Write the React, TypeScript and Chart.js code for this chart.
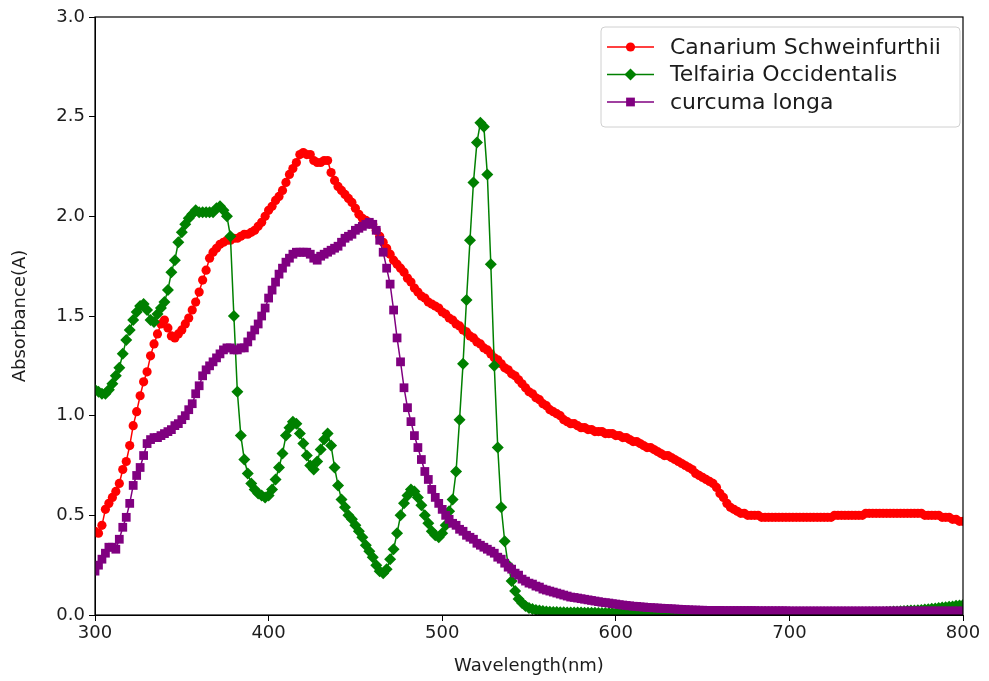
import React, { useEffect, useRef } from 'react';
import { Chart, registerables } from 'chart.js';

Chart.register(...registerables);

// ---- data ----
const WAVELENGTH_START = 300; // nm, first sample
const WAVELENGTH_STEP = 2; // nm between samples
const X_TICKS = [300, 400, 500, 600, 700, 800];
const Y_TICKS = [0, 0.5, 1.0, 1.5, 2.0, 2.5, 3.0];
const SERIES_NAMES = ['Canarium Schweinfurthii', 'Telfairia Occidentalis', 'curcuma longa'];
const X_TITLE = 'Wavelength(nm)';
const Y_TITLE = 'Absorbance(A)';

// Canarium Schweinfurthii, 300..800 nm every 2 nm
const CANARIUM = [
  0.42, 0.41, 0.45, 0.53, 0.56, 0.59, 0.62, 0.66, 0.73, 0.77,
  0.85, 0.95, 1.02, 1.10, 1.17, 1.22, 1.30, 1.36, 1.41, 1.46,
  1.48, 1.44, 1.40, 1.39, 1.41, 1.43, 1.46, 1.49, 1.53, 1.57,
  1.62, 1.68, 1.73, 1.79, 1.82, 1.84, 1.86, 1.87, 1.88, 1.88,
  1.89, 1.89, 1.90, 1.91, 1.91, 1.92, 1.93, 1.95, 1.97, 2.00,
  2.03, 2.05, 2.08, 2.10, 2.13, 2.17, 2.21, 2.24, 2.27, 2.31,
  2.32, 2.31, 2.31, 2.28, 2.27, 2.27, 2.28, 2.28, 2.22, 2.18,
  2.15, 2.13, 2.11, 2.09, 2.07, 2.04, 2.01, 1.99, 1.98, 1.97,
  1.96, 1.93, 1.90, 1.87, 1.84, 1.81, 1.78, 1.76, 1.74, 1.72,
  1.69, 1.67, 1.64, 1.62, 1.60, 1.59, 1.57, 1.56, 1.55, 1.54,
  1.52, 1.51, 1.49, 1.48, 1.46, 1.45, 1.43, 1.42, 1.40, 1.39,
  1.37, 1.36, 1.34, 1.33, 1.31, 1.29, 1.28, 1.26, 1.24, 1.23,
  1.21, 1.20, 1.18, 1.16, 1.14, 1.12, 1.11, 1.09, 1.08, 1.06,
  1.05, 1.03, 1.02, 1.01, 1.00, 0.98, 0.97, 0.96, 0.96, 0.95,
  0.94, 0.94, 0.93, 0.93, 0.92, 0.92, 0.92, 0.91, 0.91, 0.91,
  0.90, 0.90, 0.89, 0.89, 0.88, 0.87, 0.87, 0.86, 0.85, 0.84,
  0.84, 0.83, 0.82, 0.81, 0.80, 0.80, 0.79, 0.78, 0.77, 0.76,
  0.75, 0.74, 0.73, 0.71, 0.70, 0.69, 0.68, 0.67, 0.66, 0.64,
  0.61, 0.59, 0.56, 0.54, 0.53, 0.52, 0.51, 0.51, 0.50, 0.50,
  0.50, 0.50, 0.49, 0.49, 0.49, 0.49, 0.49, 0.49, 0.49, 0.49,
  0.49, 0.49, 0.49, 0.49, 0.49, 0.49, 0.49, 0.49, 0.49, 0.49,
  0.49, 0.49, 0.49, 0.50, 0.50, 0.50, 0.50, 0.50, 0.50, 0.50,
  0.50, 0.50, 0.51, 0.51, 0.51, 0.51, 0.51, 0.51, 0.51, 0.51,
  0.51, 0.51, 0.51, 0.51, 0.51, 0.51, 0.51, 0.51, 0.51, 0.50,
  0.50, 0.50, 0.50, 0.50, 0.49, 0.49, 0.49, 0.48, 0.48, 0.47,
  0.47,
];

// Telfairia Occidentalis, 300..800 nm every 2 nm
const TELFAIRIA = [
  1.13, 1.12, 1.11, 1.11, 1.13, 1.16, 1.20, 1.24, 1.31, 1.38,
  1.43, 1.48, 1.52, 1.55, 1.56, 1.53, 1.48, 1.47, 1.51, 1.54,
  1.57, 1.63, 1.72, 1.78, 1.87, 1.92, 1.96, 1.99, 2.01, 2.03,
  2.02, 2.02, 2.02, 2.02, 2.02, 2.04, 2.05, 2.03, 2.00, 1.90,
  1.50, 1.12, 0.90, 0.78, 0.71, 0.66, 0.63, 0.61, 0.60, 0.59,
  0.60, 0.63, 0.68, 0.74, 0.81, 0.90, 0.94, 0.97, 0.96, 0.91,
  0.86, 0.80, 0.75, 0.73, 0.77, 0.83, 0.88, 0.91, 0.85, 0.74,
  0.65, 0.58, 0.54, 0.50, 0.48, 0.45, 0.42, 0.39, 0.35, 0.32,
  0.29, 0.25, 0.22, 0.21, 0.23, 0.28, 0.33, 0.41, 0.50, 0.56,
  0.60, 0.63, 0.62, 0.59, 0.55, 0.50, 0.46, 0.42, 0.40, 0.39,
  0.41, 0.45, 0.52, 0.58, 0.72, 0.98, 1.26, 1.58, 1.88, 2.17,
  2.37, 2.47, 2.45, 2.21, 1.76, 1.25, 0.84, 0.54, 0.37, 0.25,
  0.17, 0.12, 0.08, 0.06, 0.045, 0.035, 0.03, 0.025, 0.022, 0.02,
  0.018, 0.016, 0.015, 0.015, 0.014, 0.014, 0.013, 0.013, 0.012, 0.012,
  0.012, 0.011, 0.011, 0.011, 0.011, 0.01, 0.01, 0.01, 0.01, 0.01,
  0.01, 0.01, 0.01, 0.01, 0.01, 0.01, 0.01, 0.01, 0.01, 0.01,
  0.01, 0.01, 0.01, 0.01, 0.01, 0.01, 0.01, 0.01, 0.01, 0.01,
  0.01, 0.01, 0.01, 0.01, 0.01, 0.01, 0.01, 0.01, 0.01, 0.01,
  0.01, 0.01, 0.01, 0.01, 0.01, 0.01, 0.01, 0.01, 0.01, 0.01,
  0.01, 0.01, 0.01, 0.01, 0.01, 0.01, 0.01, 0.01, 0.01, 0.01,
  0.01, 0.01, 0.01, 0.01, 0.01, 0.01, 0.01, 0.01, 0.01, 0.01,
  0.01, 0.01, 0.01, 0.01, 0.01, 0.01, 0.01, 0.01, 0.01, 0.01,
  0.01, 0.011, 0.011, 0.012, 0.012, 0.013, 0.013, 0.014, 0.015, 0.016,
  0.017, 0.018, 0.019, 0.02, 0.021, 0.022, 0.023, 0.024, 0.025, 0.027,
  0.029, 0.031, 0.033, 0.035, 0.037, 0.039, 0.041, 0.043, 0.046, 0.048,
  0.05,
];

// curcuma longa, 300..800 nm every 2 nm
const CURCUMA = [
  0.22, 0.25, 0.28, 0.31, 0.34, 0.34, 0.33, 0.38, 0.44, 0.49,
  0.56, 0.65, 0.70, 0.74, 0.80, 0.86, 0.88, 0.89, 0.89, 0.90,
  0.91, 0.92, 0.93, 0.95, 0.96, 0.98, 1.00, 1.03, 1.06, 1.11,
  1.15, 1.20, 1.23, 1.25, 1.27, 1.29, 1.31, 1.33, 1.34, 1.34,
  1.33, 1.33, 1.34, 1.34, 1.37, 1.40, 1.43, 1.46, 1.50, 1.54,
  1.59, 1.63, 1.67, 1.71, 1.74, 1.77, 1.79, 1.81, 1.82, 1.82,
  1.82, 1.82, 1.81, 1.79, 1.78, 1.80, 1.81, 1.82, 1.83, 1.84,
  1.85, 1.87, 1.89, 1.90, 1.91, 1.93, 1.94, 1.95, 1.96, 1.97,
  1.96, 1.93, 1.88, 1.82, 1.74, 1.66, 1.53, 1.39, 1.27, 1.14,
  1.04, 0.97, 0.90, 0.84, 0.78, 0.72, 0.68, 0.63, 0.59, 0.56,
  0.53, 0.50, 0.48, 0.46, 0.45, 0.43, 0.42, 0.40, 0.39, 0.38,
  0.36, 0.35, 0.34, 0.33, 0.32, 0.31, 0.29, 0.28, 0.26, 0.24,
  0.23, 0.21, 0.20, 0.18, 0.17, 0.16, 0.155, 0.145, 0.14, 0.13,
  0.125, 0.12, 0.115, 0.11, 0.105, 0.10, 0.095, 0.09, 0.088, 0.085,
  0.082, 0.079, 0.076, 0.073, 0.07, 0.067, 0.064, 0.062, 0.06, 0.057,
  0.055, 0.052, 0.05, 0.048, 0.046, 0.044, 0.043, 0.041, 0.04, 0.038,
  0.037, 0.036, 0.035, 0.034, 0.033, 0.032, 0.031, 0.03, 0.029, 0.028,
  0.027, 0.026, 0.025, 0.025, 0.024, 0.024, 0.023, 0.023, 0.023, 0.023,
  0.023, 0.022, 0.022, 0.022, 0.022, 0.022, 0.022, 0.022, 0.022, 0.022,
  0.022, 0.021, 0.021, 0.021, 0.021, 0.021, 0.021, 0.021, 0.021, 0.021,
  0.02, 0.02, 0.02, 0.02, 0.02, 0.02, 0.02, 0.02, 0.02, 0.02,
  0.02, 0.02, 0.02, 0.02, 0.02, 0.02, 0.02, 0.02, 0.02, 0.02,
  0.02, 0.02, 0.02, 0.02, 0.02, 0.02, 0.02, 0.02, 0.02, 0.02,
  0.02, 0.02, 0.02, 0.02, 0.02, 0.02, 0.02, 0.02, 0.02, 0.02,
  0.02, 0.02, 0.02, 0.02, 0.02, 0.02, 0.02, 0.02, 0.02, 0.02,
  0.02,
];

// ---- styles ----
const COLORS = ['#ff0000', '#008000', '#800080'];
const MARKERS = ['circle', 'rectRot', 'rect'];
const MARKER_RADII = [4.6, 6, 6.2];
const FONT = '"DejaVu Sans", "Liberation Sans", sans-serif';
const TEXT_COLOR = '#1c1c1c';

const SERIES = [CANARIUM, TELFAIRIA, CURCUMA];
const wavelengths = CANARIUM.map((_, i) => WAVELENGTH_START + i * WAVELENGTH_STEP);

function drawMarker(ctx: CanvasRenderingContext2D, style: string, x: number, y: number, r: number) {
  ctx.beginPath();
  if (style === 'circle') {
    ctx.arc(x, y, r, 0, Math.PI * 2);
  } else if (style === 'rectRot') {
    ctx.moveTo(x, y - r);
    ctx.lineTo(x + r, y);
    ctx.lineTo(x, y + r);
    ctx.lineTo(x - r, y);
    ctx.closePath();
  } else {
    const s = r * Math.SQRT1_2;
    ctx.rect(x - s, y - s, 2 * s, 2 * s);
  }
  ctx.fill();
}

const framePlugin = {
  id: 'frame',
  afterDatasetsDraw(chart: any) {
    const { ctx, chartArea: ca } = chart;
    ctx.save();
    ctx.strokeStyle = '#000';
    ctx.lineWidth = 1.2;
    ctx.strokeRect(ca.left, ca.top, ca.right - ca.left, ca.bottom - ca.top);
    ctx.restore();
  },
};

const legendPlugin = {
  id: 'mplLegend',
  afterDraw(chart: any) {
    const { ctx, chartArea: ca } = chart;
    const right = ca.right - 3;
    const left = right - 359;
    const top = ca.top + 10;
    const bottom = top + 100;
    const r = 4;
    ctx.save();
    ctx.beginPath();
    ctx.moveTo(left + r, top);
    ctx.lineTo(right - r, top);
    ctx.quadraticCurveTo(right, top, right, top + r);
    ctx.lineTo(right, bottom - r);
    ctx.quadraticCurveTo(right, bottom, right - r, bottom);
    ctx.lineTo(left + r, bottom);
    ctx.quadraticCurveTo(left, bottom, left, bottom - r);
    ctx.lineTo(left, top + r);
    ctx.quadraticCurveTo(left, top, left + r, top);
    ctx.closePath();
    ctx.fillStyle = 'rgba(255,255,255,0.85)';
    ctx.fill();
    ctx.strokeStyle = '#d0d0d0';
    ctx.lineWidth = 1;
    ctx.stroke();

    SERIES_NAMES.forEach((name, k) => {
      const y = top + 20 + k * 27.5;
      ctx.strokeStyle = COLORS[k];
      ctx.lineWidth = 1.5;
      ctx.beginPath();
      ctx.moveTo(left + 6, y);
      ctx.lineTo(left + 53, y);
      ctx.stroke();
      ctx.fillStyle = COLORS[k];
      drawMarker(ctx, MARKERS[k], left + 29.5, y, MARKER_RADII[k]);
      ctx.save();
      ctx.translate(left + 69, y);
      ctx.scale(1.1, 1.05);
      ctx.fillStyle = TEXT_COLOR;
      ctx.font = `20px ${FONT}`;
      ctx.textBaseline = 'middle';
      ctx.textAlign = 'left';
      ctx.fillText(name, 0, 1);
      ctx.restore();
    });
    ctx.restore();
  },
};

export default function App() {
  const ref = useRef<HTMLCanvasElement>(null);

  useEffect(() => {
    document.body.style.margin = '0';
    const datasets = SERIES.map((values, k) => ({
      label: SERIES_NAMES[k],
      data: values.map((v, i) => ({ x: wavelengths[i], y: v })),
      borderColor: COLORS[k],
      backgroundColor: COLORS[k],
      pointBackgroundColor: COLORS[k],
      pointBorderWidth: 0,
      pointStyle: MARKERS[k],
      pointRadius: MARKER_RADII[k],
      borderWidth: 1.5,
      tension: 0,
      clip: 0,
      order: 3 - k,
    }));

    const chart = new Chart(ref.current as HTMLCanvasElement, {
      type: 'line',
      data: { datasets } as any,
      options: {
        animation: false,
        responsive: false,
        devicePixelRatio: 1,
        layout: { padding: { top: 17, right: 26, left: 0, bottom: 0 } },
        plugins: {
          legend: { display: false },
          tooltip: { enabled: false },
        },
        scales: {
          x: {
            type: 'linear',
            min: X_TICKS[0],
            max: X_TICKS[X_TICKS.length - 1],
            afterBuildTicks: (s: any) => {
              s.ticks = X_TICKS.map((v) => ({ value: v }));
            },
            afterFit: (s: any) => {
              s.height = 66;
            },
            ticks: {
              color: TEXT_COLOR,
              font: { family: FONT, size: 18 },
              padding: 2,
              maxRotation: 0,
              callback: (v: any) => String(v),
            },
            grid: { drawOnChartArea: false, drawTicks: true, tickLength: 6, color: '#000', lineWidth: 1 },
            border: { display: true, color: '#000', width: 1 },
            title: {
              display: true,
              text: X_TITLE,
              color: TEXT_COLOR,
              font: { family: FONT, size: 18 },
              padding: { top: 0, bottom: 4 },
            },
          },
          y: {
            type: 'linear',
            min: Y_TICKS[0],
            max: Y_TICKS[Y_TICKS.length - 1],
            afterBuildTicks: (s: any) => {
              s.ticks = Y_TICKS.map((v) => ({ value: v }));
            },
            afterFit: (s: any) => {
              s.width = 95;
            },
            ticks: {
              color: TEXT_COLOR,
              font: { family: FONT, size: 18 },
              padding: 4,
              callback: (v: any) => Number(v).toFixed(1),
            },
            grid: { drawOnChartArea: false, drawTicks: true, tickLength: 6, color: '#000', lineWidth: 1 },
            border: { display: true, color: '#000', width: 1 },
            title: {
              display: true,
              text: Y_TITLE,
              color: TEXT_COLOR,
              font: { family: FONT, size: 18 },
              padding: { top: 10, bottom: 0 },
            },
          },
        },
      } as any,
      plugins: [framePlugin, legendPlugin],
    });
    return () => chart.destroy();
  }, []);

  return (
    <div style={{ width: 989, height: 681 }}>
      <canvas ref={ref} width={989} height={681} style={{ display: 'block' }} />
    </div>
  );
}
